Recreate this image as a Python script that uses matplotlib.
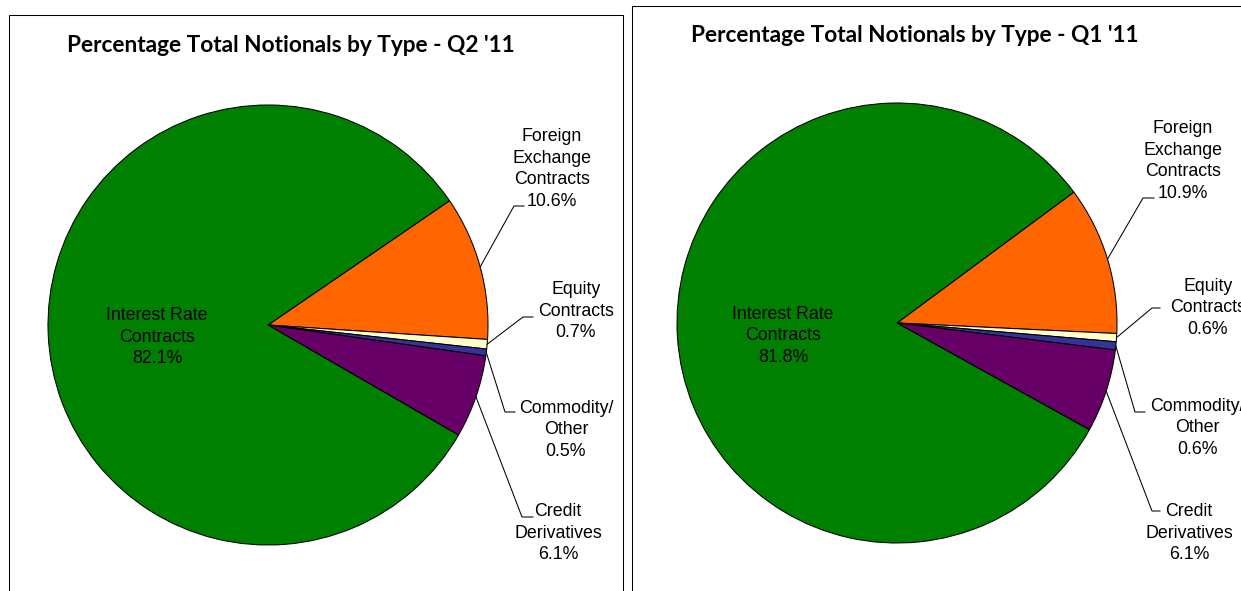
import matplotlib
matplotlib.use("Agg")
import matplotlib.pyplot as plt
from matplotlib.patches import Rectangle
import numpy as np

# ---------------- data ----------------
categories = ["Foreign\nExchange\nContracts", "Equity\nContracts", "Commodity/\nOther",
              "Credit\nDerivatives", "Interest Rate\nContracts"]
q2_values = [10.6, 0.7, 0.5, 6.1, 82.1]
q1_values = [10.9, 0.6, 0.6, 6.1, 81.8]
colors = ["#FF6600", "#FFFFCC", "#333399", "#660066", "#008000"]
titles = ["Percentage Total Notionals by Type - Q2 '11",
          "Percentage Total Notionals by Type - Q1 '11"]

W, H = 1241, 591
fig = plt.figure(figsize=(W / 100, H / 100), dpi=100)
ax = fig.add_axes([0, 0, 1, 1])

def Y(y):
    return H - y

LW = 0.75
label_font = dict(family=["Liberation Sans", "DejaVu Sans"], size=12.8)

panels = [
    dict(values=q2_values, title=titles[0], center=(268, 325), r=220, start=34.4,
         box=(9, 15, 614), title_xy=(67, 45),
         label_xy=[(552, 169), (576, 311), (566, 430), (558, 533), (157, 337)],
         elbow=[(514, 206), (523, 317), (505, 412), (522, 517), None],
         end=[(524, 206), (533, 317), (515, 412), (533, 517), None]),
    dict(values=q1_values, title=titles[1], center=(897, 323), r=220, start=36.5,
         box=(632, 6, 700), title_xy=(691, 36),
         label_xy=[(1183, 161), (1208, 308), (1197, 428), (1189, 533), (783, 336)],
         elbow=[(1143, 198), (1152, 308), (1135, 412), (1152, 511), None],
         end=[(1154, 198), (1160, 308), (1145, 412), (1160, 511), None]),
]

title_texts = []
for p in panels:
    bx, by, bw = p["box"]
    ax.add_patch(Rectangle((bx, Y(by) - 700), bw, 700, fill=False, edgecolor="black",
                           linewidth=LW, zorder=0))
    cx, cy = p["center"]
    wedges, _ = ax.pie(p["values"], colors=colors, startangle=p["start"], counterclock=False,
                       center=(cx, Y(cy)), radius=p["r"],
                       wedgeprops=dict(edgecolor="black", linewidth=LW))
    for i, (w, v) in enumerate(zip(wedges, p["values"])):
        lx, ly = p["label_xy"][i]
        ax.text(lx, Y(ly), f"{categories[i]}\n{v:.1f}%", ha="center", va="center",
                linespacing=1.38, color="black", **label_font)
        if p["elbow"][i] is not None:
            mid = np.deg2rad((w.theta1 + w.theta2) / 2)
            sx = cx + p["r"] * np.cos(mid)
            sy = Y(cy) + p["r"] * np.sin(mid)
            ex, ey = p["elbow"][i]
            fx, fy = p["end"][i]
            ax.plot([sx, ex, fx], [sy, Y(ey), Y(fy)], color="black", linewidth=LW,
                    solid_joinstyle="miter")
    tx, ty = p["title_xy"]
    t = ax.text(tx, Y(ty), p["title"], ha="left", va="center", fontweight="bold",
                family=["Lato", "DejaVu Sans"], fontsize=15)
    title_texts.append(t)

ax.set_xlim(0, W)
ax.set_ylim(0, H)
ax.set_aspect("auto")
ax.axis("off")

# fit title width to the reference (~451 px)
renderer = fig.canvas.get_renderer()
w0 = title_texts[0].get_window_extent(renderer).width
scale = 451 / w0
for t in title_texts:
    t.set_fontsize(15 * scale)

fig.savefig("out.png", dpi=100, facecolor="white")
